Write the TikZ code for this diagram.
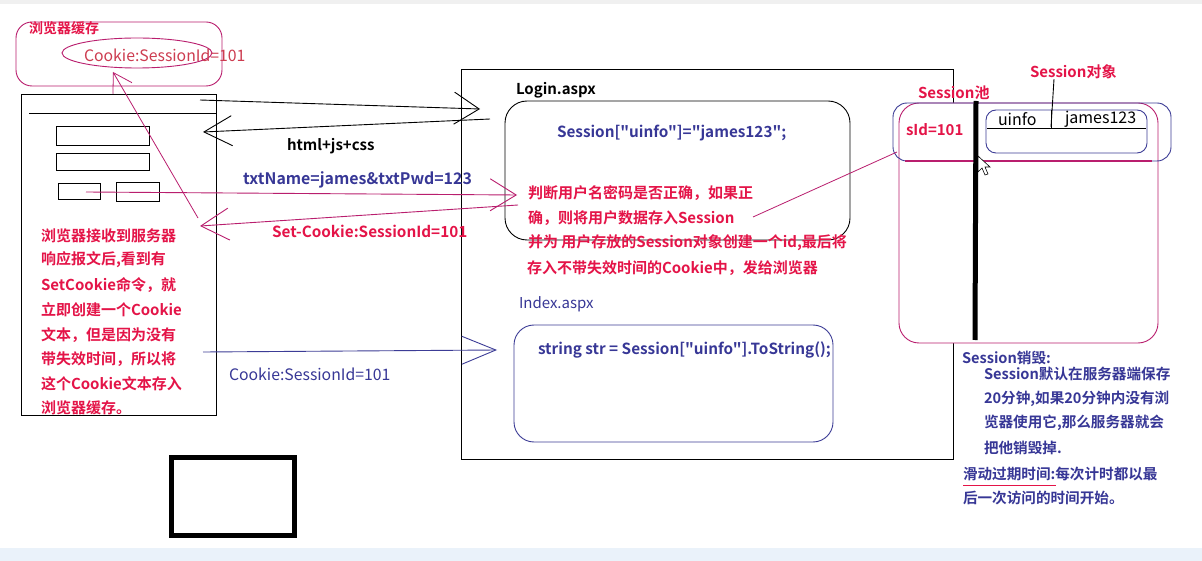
\documentclass[tikz,border=0pt]{standalone}
\usepackage{fontspec}
\setmainfont{Noto Sans CJK SC}[BoldFont=* Bold,Ligatures=TeXOff]
\usetikzlibrary{arrows.meta}
\definecolor{crim}{RGB}{228,20,72}
\definecolor{mag}{RGB}{185,30,110}
\definecolor{bluet}{RGB}{55,55,150}
\definecolor{bluel}{RGB}{60,60,150}
\definecolor{cookr}{RGB}{205,60,80}
\definecolor{strip}{RGB}{234,242,250}
\begin{document}
\begin{tikzpicture}[x=1pt,y=-1pt,
  every node/.style={inner sep=0pt,outer sep=0pt,anchor=west},
  redtxt/.style={text=crim,font=\fontsize{15}{18}\selectfont\bfseries},
  bluetxt/.style={text=bluet,font=\fontsize{15}{18}\selectfont\bfseries},
  sesstxt/.style={text=bluet,font=\fontsize{14.6}{17}\selectfont\bfseries},
  blacktxt/.style={text=black,font=\fontsize{15}{18}\selectfont\bfseries},
  thin/.style={draw=black,line width=0.9pt},
  barb/.style 2 args={-{Straight Barb[length=#1,width=#2]}}]
\useasboundingbox (0,0) rectangle (1202,561);
\fill[white] (0,0) rectangle (1202,561);
\fill[black!6] (0,0) rectangle (1202,4);
\fill[strip] (0,548) rectangle (1202,561);

% browser cache
\draw[mag,line width=0.9pt,rounded corners=16] (16,22) rectangle (222,86);
\draw[mag,line width=0.9pt] (137,53) ellipse [x radius=75,y radius=15];
\node[text=crim,font=\fontsize{14}{17}\selectfont\bfseries] (cachet) at (29,28) {浏览器缓存};
\node[text=cookr,font=\fontsize{15.8}{18}\selectfont] (cookiec) at (84,55) {Cookie:SessionId=101};

% browser window
\draw[thin] (21,94) rectangle (216,415);
\draw[thin] (29,113) -- (216,113);
\draw[thin] (56,126) rectangle (149,145);
\draw[thin] (56,153) rectangle (149,170);
\draw[thin] (58,183) rectangle (100,199);
\draw[thin] (116,182) rectangle (159,201);

\node[redtxt] (l1) at (41,236) {浏览器接收到服务器};
\node[redtxt] (l2) at (41,260) {响应报文后,看到有};
\node[redtxt] (l3) at (41,285) {SetCookie命令，就};
\node[redtxt] (l4) at (41,310) {立即创建一个Cookie};
\node[redtxt] (l5) at (41,335) {文本，但是因为没有};
\node[redtxt] (l6) at (41,359) {带失效时间，所以将};
\node[redtxt] (l7) at (41,384) {这个Cookie文本存入};
\node[redtxt] (l8) at (41,408) {浏览器缓存。};

% thick box
\draw[line width=5pt] (171,457) rectangle (294,535);

% server
\draw[thin] (461,69) rectangle (953,459);
\node[blacktxt] (login) at (516,90) {Login.aspx};
\draw[thin,rounded corners=22] (505,101) rectangle (850,240);
\node[bluetxt,font=\fontsize{15.3}{18}\selectfont\bfseries] (sess) at (557,133) {Session["uinfo"]="james123";};
\node[redtxt] (r1) at (528,193) {判断用户名密码是否正确，如果正};
\node[redtxt] (r2) at (528,218) {确，则将用户数据存入Session};
\node[redtxt] (r3) at (528,243) {并为 用户存放的Session对象创建一个id,最后将};
\node[redtxt] (r4) at (527,268) {存入不带失效时间的Cookie中，发给浏览器};
\node[text=bluet,font=\fontsize{15}{18}\selectfont] (idx) at (519,304) {Index.aspx};
\draw[bluel,line width=0.9pt,rounded corners=20] (514,325) rectangle (833,442);
\node[bluetxt,font=\fontsize{15.3}{18}\selectfont\bfseries] (str) at (538,350) {string str = Session["uinfo"].ToString();};

% session pool
\draw[mag,line width=0.9pt,fill=white,rounded corners=20] (899,103) rectangle (1158,343);
\draw[bluel,line width=0.9pt,rounded corners=14] (893,103) rectangle (1171,161);
\draw[mag,line width=1.2pt] (905,161) -- (1152,161);
\draw[bluel,line width=0.9pt,rounded corners=10] (986,110) rectangle (1147,153);
\draw[thin] (987,128) -- (1146,128);
\draw[thin] (1051,110) -- (1051,128);
\draw[line width=5pt] (976,101) -- (975,340);
\node[redtxt] (sid) at (906,130) {sId=101};
\node[redtxt] (pool) at (918,93) {Session池};
\node[redtxt] (sobj) at (1030,72) {Session对象};
\node[font=\fontsize{16}{18}\selectfont] (uinfo) at (998,119) {uinfo};
\node[font=\fontsize{16}{18}\selectfont] (jval) at (1065,119) {james123};
\draw[thin] (sobj.south -| 1054,0) -- (1051,127);
% cursor
\draw[black,fill=white,line width=0.6pt] (978,156) -- (978,172) -- (982,168) -- (985,175) -- (988,174) -- (985,167) -- (990,167) -- cycle;

% session destroy text
\node[sesstxt] (d0) at (962,358) {Session销毁:};
\node[sesstxt] (d1) at (984,374) {Session默认在服务器端保存};
\node[sesstxt] (d2) at (984,399) {20分钟,如果20分钟内没有浏};
\node[sesstxt] (d3) at (984,423) {览器使用它,那么服务器就会};
\node[sesstxt] (d4) at (984,448) {把他销毁掉.};
\node[sesstxt] (d5) at (963,474) {滑动过期时间:每次计时都以最};
\node[sesstxt] (d6) at (963,498) {后一次访问的时间开始。};
\draw[crim,line width=0.9pt] (963,485) -- (1056,485);

% connectors
\coordinate (a1s) at (200,100); \coordinate (a1e) at (480,109);
\coordinate (a2s) at (490,119); \coordinate (a2e) at (203,132);
\coordinate (a3s) at (86,192);  \coordinate (a3e) at (517,195);
\coordinate (a4s) at (518,205); \coordinate (a4e) at (200,226);
\coordinate (a5s) at (198,218); \coordinate (a5e) at (113,72);
\coordinate (a6s) at (203,352); \coordinate (a6e) at (497,350);
\coordinate (a7s) at (753,217); \coordinate (a7e) at (897,152);

\draw[thin,barb={25pt}{32pt}] (a1s) -- (a1e);
\draw[thin,barb={28pt}{30pt}] (a2s) -- (a2e);
\node[blacktxt] (html) at (287,146) {html+js+css};
\draw[mag,line width=0.9pt,barb={26pt}{32pt}] (a3s) -- (a3e);
\node[bluetxt,font=\fontsize{15.9}{18}\selectfont\bfseries] (txtn) at (243,180) {txtName=james\&txtPwd=123};
\draw[mag,line width=0.9pt,barb={28pt}{32pt}] (a4s) -- (a4e);
\node[redtxt,font=\fontsize{15.3}{18}\selectfont\bfseries] (setc) at (272,231) {Set-Cookie:SessionId=101};
\draw[mag,line width=0.8pt,barb={18pt}{22pt}] (a5s) -- (a5e);
\draw[bluel,line width=0.9pt,barb={34pt}{28pt}] (a6s) -- (a6e);
\node[text=bluet,font=\fontsize{15.8}{18}\selectfont] (cookl) at (229,374) {Cookie:SessionId=101};
\draw[mag,line width=0.8pt] (a7s) -- (a7e);
\end{tikzpicture}
\end{document}
